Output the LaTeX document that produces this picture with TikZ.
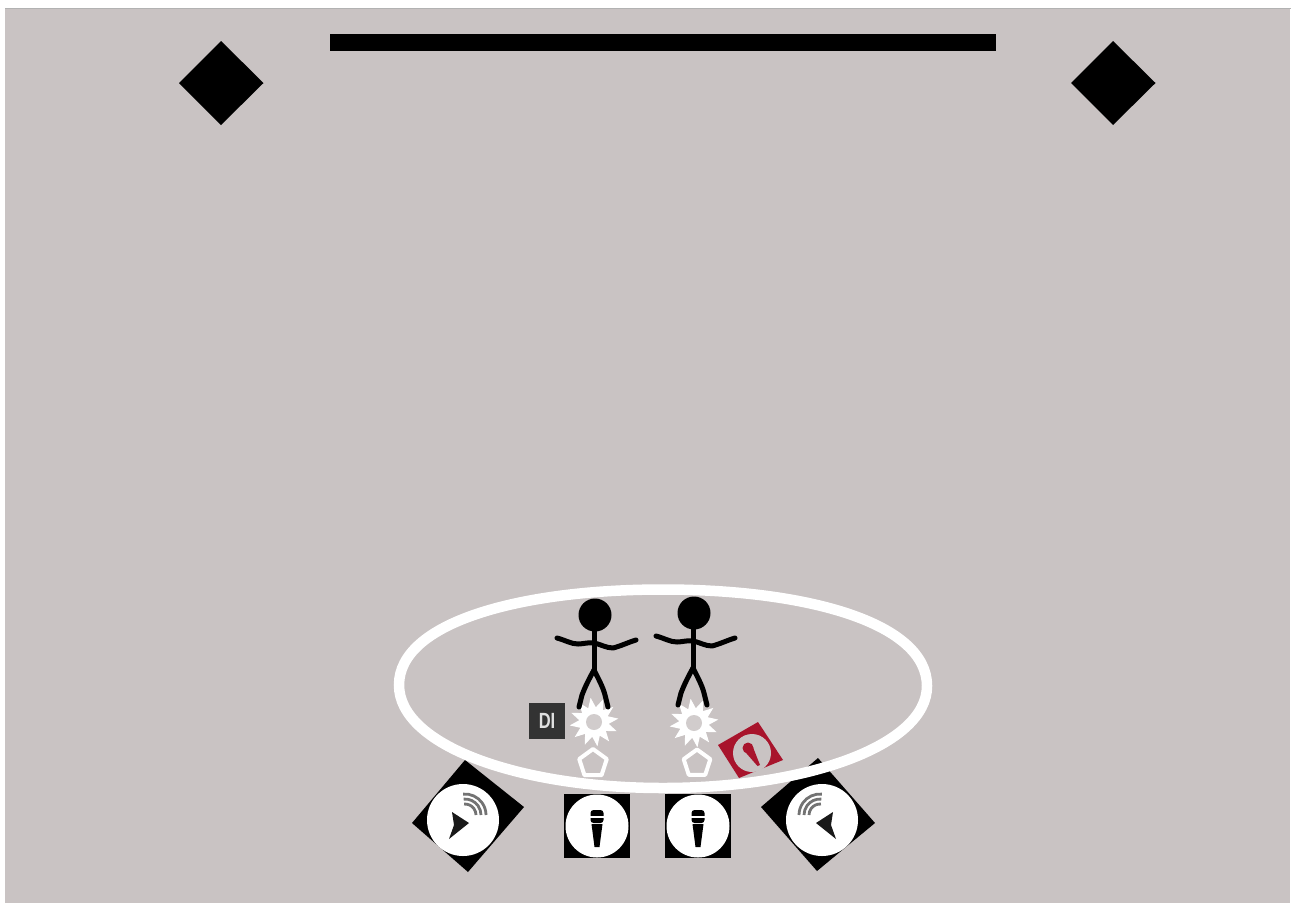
\documentclass[tikz,border=0pt]{standalone}
\usepackage{fontspec}
\usetikzlibrary{shapes.geometric}
\setmainfont{Liberation Sans}
\definecolor{stagebg}{HTML}{C9C3C3}
\definecolor{redmon}{HTML}{A8142C}
\tikzset{
  x=1pt,y=-1pt,
  limb/.style={draw=black,line width=5pt,line cap=round,line join=round},
  pentashape/.style={draw=white,line width=4pt,line join=round},
  ringline/.style={draw=white,line width=10.5pt},
  burststar/.style={star,star points=12,star point ratio=1.65,minimum size=49pt,inner sep=0pt,fill=white,draw=none,shape border rotate=8},
}
\newcommand{\stickman}[2]{%
  \begin{scope}[shift={(#1,#2)}]
    \fill[black] (0,-32) circle (16.5);
    \path[limb] (-1,-20) -- (-1,23);
    \path[limb] (-38,-9) .. controls (-30,-7) and (-24,-3) .. (-17,-3) .. controls (-12,-3) and (-6,-5) .. (-1,-4) .. controls (5,-3) and (11,1) .. (18,1) .. controls (26,-1) and (34,-5) .. (41,-7);
    \path[limb] (-1,23) .. controls (-6,32) and (-10,40) .. (-13,48) -- (-16,60);
    \path[limb] (-1,23) .. controls (3,31) and (8,40) .. (10,48) -- (13,60);
  \end{scope}}
\newcommand{\penta}[3]{%
  \draw[pentashape] ({#1+#3*cos(-90)},{#2+#3*sin(-90)})
    -- ({#1+#3*cos(-18)},{#2+#3*sin(-18)})
    -- ({#1+#3*cos(54)},{#2+#3*sin(54)})
    -- ({#1+#3*cos(126)},{#2+#3*sin(126)})
    -- ({#1+#3*cos(198)},{#2+#3*sin(198)}) -- cycle;}
\newcommand{\micbox}[2]{%
  \fill[black] (#1-33,#2-32) rectangle (#1+33,#2+32);
  \fill[white] (#1,#2) circle (31.5);
  \begin{scope}[shift={(#1,#2)}]
    \fill[black,rounded corners=3pt] (-6.5,-16) rectangle (6.5,-3);
    \fill[black] (-5.5,-2) -- (5.5,-2) -- (2.5,21) -- (-2.5,21) -- cycle;
    \draw[white,line width=1.2pt] (-7,-9) -- (7,-9);
  \end{scope}}
\newcommand{\speaker}[3]{%
  \begin{scope}[shift={(#1,#2)},xscale=#3]
    \fill[white] (-4,5) circle (36);
    \fill[black!90] (-15,-3) -- (2,8) -- (-18,24) -- (-13,10) -- cycle;
    \foreach \r in {11,16,21}{
      \draw[black!55,line width=2.8pt] ({-2+\r*cos(-95)},{\r*sin(-95)}) arc (-95:0:\r);
    }
  \end{scope}}
\begin{document}
\begin{tikzpicture}
\useasboundingbox (0,0) rectangle (1295,903);
\fill[white] (0,0) rectangle (1295,903);
\fill[stagebg] (5,9) rectangle (1290,903);
\fill[black!30] (5,8) rectangle (1291,9.4);
% screen and side speakers
\fill[black] (330,34) rectangle (996,51);
\fill[black] (221,41) -- (263.5,83) -- (221,125) -- (179,83) -- cycle;
\fill[black] (1113,41) -- (1155.5,83) -- (1113,125) -- (1071,83) -- cycle;
% wedge speaker bodies
\fill[black] (465,760) -- (524,807) -- (468,872) -- (412,823) -- cycle;
\speaker{467}{815}{1}
\fill[black] (818,758) -- (875,823) -- (817,871) -- (761,807) -- cycle;
\speaker{818}{815}{-1}
% stage outline
\draw[ringline] (399,685) .. controls (399,623) and (518,589.5) .. (663,589.5)
  .. controls (808,589.5) and (927,623) .. (927,686)
  .. controls (927,745) and (808,788) .. (663,788)
  .. controls (518,788) and (399,745) .. (399,685) -- cycle;
% performers
\node[burststar] (burstA) at (594,722) {};
\node[burststar] (burstB) at (694,723) {};
\fill[stagebg!85!white] (burstA.center) circle (8);
\fill[stagebg!85!white] (burstB.center) circle (8);
\stickman{595}{647}
\stickman{694}{645}
\penta{593}{763.5}{14.5}
\penta{697}{763.5}{14}
% DI box
\node[fill=black!80,minimum width=36pt,minimum height=36pt,inner sep=0pt,text=white!88!black,font=\fontsize{22}{22}\selectfont\bfseries] (di) at (547,721) {\scalebox{.75}[1]{DI}};
% mic boxes
\micbox{597}{826}
\micbox{698}{826}
% red monitor
\fill[redmon] (758,722) -- (783,760) -- (739,778) -- (718,745) -- cycle;
\fill[stagebg] (752,753) circle (19);
\fill[redmon] (748,748) circle (5.5);
\fill[redmon] (743.5,750) -- (752.5,746) -- (760,765) -- (757.5,766) -- cycle;
\end{tikzpicture}
\end{document}
